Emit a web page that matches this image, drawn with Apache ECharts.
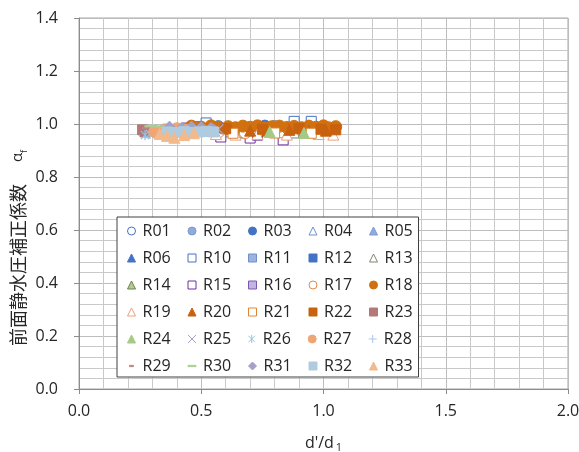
<!DOCTYPE html>
<html>
<head>
<meta charset="utf-8">
<script src="https://cdn.jsdelivr.net/npm/echarts@6/dist/echarts.min.js"></script>
<style>
  html, body { margin: 0; padding: 0; background: #fff; }
  #chart { width: 579px; height: 452px; }
</style>
</head>
<body>
<div id="chart"></div>
<script>
// Axis ranges and tick steps
const xRange = [0, 2.0];
const xStep = 0.5;
const yRange = [0, 1.4];
const yStep = 0.2;

// Series names, in legend order
const seriesNames = [
  'R01', 'R02', 'R03', 'R04', 'R05',
  'R06', 'R10', 'R11', 'R12', 'R13',
  'R14', 'R15', 'R16', 'R17', 'R18',
  'R19', 'R20', 'R21', 'R22', 'R23',
  'R24', 'R25', 'R26', 'R27', 'R28',
  'R29', 'R30', 'R31', 'R32', 'R33'
];

// Measured points [d'/d1, αf] per series
const R01 = [[0.61, 0.985], [0.80, 0.990]];
const R02 = [[0.49, 0.985], [0.66, 0.982]];
const R03 = [[0.57, 0.990], [0.76, 0.992]];
const R04 = [[0.70, 0.970]];
const R05 = [[0.52, 0.975]];
const R06 = [[0.82, 0.975]];
const R10 = [[0.52, 1.004], [0.88, 1.010], [0.95, 1.010]];
const R11 = [[0.65, 0.985]];
const R12 = [[0.74, 0.985]];
const R13 = [[0.60, 0.972], [0.88, 0.968]];
const R14 = [[0.67, 0.968], [0.92, 0.970]];
const R15 = [[0.58, 0.951], [0.70, 0.947], [0.73, 0.958], [0.74, 0.989], [0.835, 0.970], [0.835, 0.940]];
const R16 = [[0.44, 0.985], [0.47, 0.990], [0.51, 0.980], [0.56, 0.985]];
const R17 = [[0.57, 0.970], [0.68, 0.968], [0.82, 0.970], [0.96, 0.970]];
const R18 = [[0.46, 0.992], [0.50, 0.988], [0.54, 0.993], [0.57, 0.988], [0.61, 0.990], [0.64, 0.986],
             [0.67, 0.992], [0.70, 0.988], [0.73, 0.993], [0.76, 0.986], [0.79, 0.990], [0.82, 0.992],
             [0.85, 0.987], [0.88, 0.991], [0.91, 0.986], [0.94, 0.992], [0.97, 0.988], [1.00, 0.993],
             [1.02, 0.986], [1.05, 0.990]];
const R19 = [[0.56, 0.962], [0.64, 0.960], [0.73, 0.962], [0.85, 0.960], [0.98, 0.962], [1.04, 0.960]];
const R20 = [[0.55, 0.975], [0.62, 0.980], [0.70, 0.975], [0.77, 0.975], [0.86, 0.978], [0.94, 0.975], [1.01, 0.975]];
const R21 = [[0.63, 0.965], [0.80, 0.966], [0.95, 0.965]];
const R22 = [[0.60, 0.982], [0.75, 0.980], [0.90, 0.982], [0.99, 0.980], [1.05, 0.978]];
const R23 = [[0.26, 0.978], [0.27, 0.970]];
const R24 = [[0.45, 0.975], [0.78, 0.970], [0.92, 0.966]];
const R25 = [[0.39, 0.985], [0.48, 0.980], [0.57, 0.980]];
const R26 = [[0.27, 0.958], [0.29, 0.962]];
const R27 = [[0.31, 0.972], [0.35, 0.978], [0.40, 0.982], [0.44, 0.976]];
const R28 = [[0.35, 0.975], [0.45, 0.980], [0.52, 0.975]];
const R29 = [[0.27, 0.985]];
const R30 = [[0.29, 0.992], [0.33, 0.990]];
const R31 = [[0.37, 0.990], [0.42, 0.985], [0.46, 0.990], [0.50, 0.988], [0.54, 0.985]];
const R32 = [[0.36, 0.970], [0.40, 0.968], [0.43, 0.972], [0.46, 0.968], [0.49, 0.970], [0.52, 0.972], [0.55, 0.970]];
const R33 = [[0.33, 0.962], [0.36, 0.955], [0.39, 0.948], [0.43, 0.958], [0.47, 0.965]];

const pointsByName = {
  R01, R02, R03, R04, R05, R06, R10, R11, R12, R13, R14, R15, R16, R17, R18,
  R19, R20, R21, R22, R23, R24, R25, R26, R27, R28, R29, R30, R31, R32, R33
};

// Marker shapes
const SYM_X = 'path://M0,0L10,10M10,0L0,10';
const SYM_STAR = 'path://M5,0L5,10M1,1L9,9M9,1L1,9';
const SYM_PLUS = 'path://M5,0L5,10M0,5L10,5';
const SYM_SHORT_DASH = 'path://M0,0M10,10M2.5,4.2L7.5,4.2L7.5,5.8L2.5,5.8Z';
const SYM_DASH = 'path://M0,0M10,10M0,4.2L10,4.2L10,5.8L0,5.8Z';

// Marker look per series: symbol, fill, stroke
const markerStyles = {
  R01: ['circle',   '#ffffff', '#4472C4'],
  R02: ['circle',   '#8FAADC', '#7C9AD4'],
  R03: ['circle',   '#4472C4', '#4472C4'],
  R04: ['triangle', '#ffffff', '#6E8FD0'],
  R05: ['triangle', '#8FAADC', '#7C9AD4'],
  R06: ['triangle', '#4472C4', '#4472C4'],
  R10: ['rect',     '#ffffff', '#4472C4'],
  R11: ['rect',     '#9CB3E0', '#6F8FCF'],
  R12: ['rect',     '#4472C4', '#4472C4'],
  R13: ['triangle', '#ffffff', '#7F866E'],
  R14: ['triangle', '#B4CC93', '#6F8050'],
  R15: ['rect',     '#ffffff', '#7030A0'],
  R16: ['rect',     '#C2B4DE', '#7E55B0'],
  R17: ['circle',   '#ffffff', '#E08A4E'],
  R18: ['circle',   '#D0700F', '#D0700F'],
  R19: ['triangle', '#ffffff', '#E9A27E'],
  R20: ['triangle', '#C8620F', '#C8620F'],
  R21: ['rect',     '#ffffff', '#DB8634'],
  R22: ['rect',     '#C8620F', '#C8620F'],
  R23: ['rect',     '#B57878', '#B57878'],
  R24: ['triangle', '#A6C988', '#A6C988'],
  R25: [SYM_X,      '#A89CCB', '#A89CCB'],
  R26: [SYM_STAR,   '#93C4E2', '#93C4E2'],
  R27: ['circle',   '#EEA676', '#EEA676'],
  R28: [SYM_PLUS,   '#AFC3E6', '#AFC3E6'],
  R29: [SYM_SHORT_DASH, '#C08484', '#C08484'],
  R30: [SYM_DASH,   '#AACF8E', '#AACF8E'],
  R31: ['diamond',  '#A3A2C6', '#A3A2C6'],
  R32: ['rect',     '#AFCBE0', '#AFCBE0'],
  R33: ['triangle', '#F2B98C', '#F2B98C']
};

// Plot marker sizes (the legend draws its own smaller icons)
const markerSize = { circle: 12, triangle: 11, rect: 10, diamond: 11 };

const FONT = '"Open Sans", "Liberation Sans", sans-serif';
const CJK = '"Noto Sans CJK JP", "Noto Sans", sans-serif';
const TEXT_COLOR = '#262626';
const AXIS_COLOR = '#8C8C8C';

const series = seriesNames.map(name => {
  const [symbol, fill, stroke] = markerStyles[name];
  const isLine = symbol === SYM_X || symbol === SYM_STAR || symbol === SYM_PLUS;
  return {
    name,
    type: 'scatter',
    data: pointsByName[name],
    symbol,
    symbolKeepAspect: true,
    symbolSize: markerSize[symbol] || 10,
    itemStyle: {
      color: fill,
      borderColor: stroke,
      borderWidth: isLine ? 1.3 : 1,
      opacity: 1
    },
    emphasis: { disabled: true }
  };
});

const chart = echarts.init(document.getElementById('chart'), null, { renderer: 'canvas' });

chart.setOption({
  animation: false,
  backgroundColor: '#ffffff',
  grid: {
    left: 79, right: 11, top: 18, bottom: 63,
    outerBoundsMode: 'none',
    containLabel: false,
    show: true, borderColor: '#A6A6A6', borderWidth: 1, backgroundColor: 'transparent'
  },
  xAxis: {
    type: 'value',
    min: xRange[0], max: xRange[1], interval: xStep,
    axisLine: { show: true, lineStyle: { color: AXIS_COLOR, width: 1 } },
    axisTick: { show: true, length: 5, lineStyle: { color: AXIS_COLOR } },
    minorTick: { show: false, splitNumber: 5 },
    splitLine: { show: true, lineStyle: { color: '#BDBDBD', width: 1 } },
    minorSplitLine: { show: true, lineStyle: { color: '#C9C9C9', width: 1 } },
    axisLabel: {
      margin: 14, fontSize: 16, fontFamily: FONT, color: TEXT_COLOR,
      formatter: v => v.toFixed(1)
    },
    name: "{a|d'/d}{b|1}",
    nameLocation: 'middle',
    nameGap: 44,
    nameTextStyle: {
      rich: {
        a: { fontSize: 16, fontFamily: FONT, color: TEXT_COLOR, lineHeight: 20 },
        b: { fontSize: 11, fontFamily: FONT, color: TEXT_COLOR, lineHeight: 12, verticalAlign: 'bottom', padding: [0, 0, 0, 2] }
      }
    }
  },
  yAxis: {
    type: 'value',
    min: yRange[0], max: yRange[1], interval: yStep,
    axisLine: { show: true, lineStyle: { color: AXIS_COLOR, width: 1 } },
    axisTick: { show: true, length: 5, lineStyle: { color: AXIS_COLOR } },
    minorTick: { show: false, splitNumber: 5 },
    splitLine: { show: true, lineStyle: { color: '#BDBDBD', width: 1 } },
    minorSplitLine: { show: true, lineStyle: { color: '#C9C9C9', width: 1 } },
    axisLabel: {
      margin: 21, fontSize: 16, fontFamily: FONT, color: TEXT_COLOR,
      formatter: v => v.toFixed(1)
    }
  },
  legend: {
    data: seriesNames,
    orient: 'horizontal',
    left: 117, top: 217,
    width: 292,
    padding: [6, 0, 3, 10],
    itemWidth: 8, itemHeight: 8,
    itemGap: 11,
    selectedMode: false,
    backgroundColor: '#ffffff',
    borderColor: '#404040',
    borderWidth: 1,
    itemStyle: { borderWidth: 1 },
    formatter: name => '{n|' + name + '}',
    textStyle: {
      fontSize: 16, fontFamily: FONT, color: TEXT_COLOR,
      rich: {
        n: { fontSize: 16, fontFamily: FONT, color: TEXT_COLOR, width: 34, lineHeight: 16, padding: [0, 0, 0, 2] }
      }
    }
  },
  graphic: [{
    type: 'text',
    x: 18, y: 248,
    rotation: Math.PI / 2,
    style: {
      text: '{a|前面静水圧補正係数}{g| }{b|α}{c|f}',
      align: 'center',
      verticalAlign: 'middle',
      rich: {
        a: { fontSize: 18, fontFamily: CJK, fill: TEXT_COLOR, lineHeight: 22 },
        g: { fontSize: 18, fontFamily: FONT, lineHeight: 22, width: 22 },
        b: { fontSize: 15, fontFamily: FONT, fill: TEXT_COLOR, lineHeight: 22 },
        c: { fontSize: 9, fontFamily: FONT, fill: TEXT_COLOR, lineHeight: 10, verticalAlign: 'bottom' }
      }
    }
  }],
  series
});
</script>
</body>
</html>
